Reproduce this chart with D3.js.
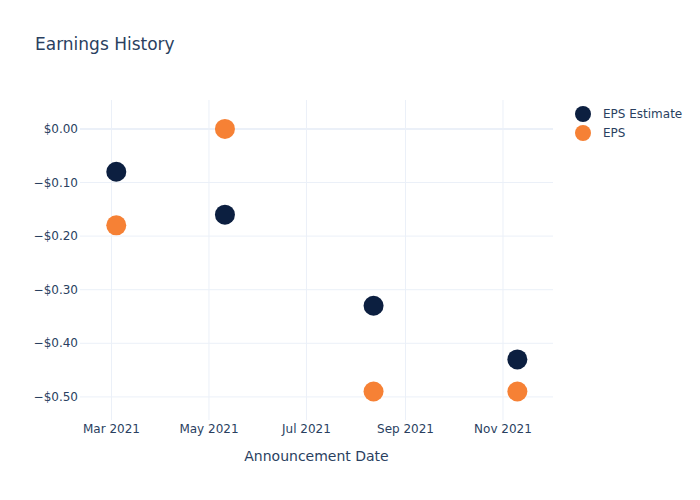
<!DOCTYPE html>
<html><head><meta charset="utf-8">
<script src="https://cdn.jsdelivr.net/npm/d3@7"></script>
<style>body{margin:0;background:#fff;} text{font-family:"DejaVu Sans",Verdana,sans-serif;}</style>
</head><body>
<svg id="c" width="700" height="500"></svg>
<script>
const dates = ["2021-03-04","2021-05-11","2021-08-12","2021-11-10"];
const epsEstimate = [-0.08,-0.16,-0.33,-0.43];
const eps = [-0.18,0.00,-0.49,-0.49];
const yTicks = [0,-0.1,-0.2,-0.3,-0.4,-0.5];
const xTicks = ["2021-03-01","2021-05-01","2021-07-01","2021-09-01","2021-11-01"];
const seriesNames = ["EPS Estimate","EPS"];
const colors = ["#0c1f40","#f68135"];

const svg = d3.select("#c");
const L=80,R=553,T=100,B=420;
const parse = d3.utcParse("%Y-%m-%d");
const x = d3.scaleUtc().domain([new Date(Date.UTC(2021,1,9,7)), new Date(Date.UTC(2021,11,2,7))]).range([L,R]);
const y = d3.scaleLinear().domain([-0.5431,0.0539]).range([B,T]);
const txt="#2a3f5f", grid="#ebf0f8";

svg.append("text").attr("x",35).attr("y",50).attr("font-size",17).attr("fill",txt).text("Earnings History");

// grid
svg.append("g").selectAll("line").data(xTicks).join("line")
 .attr("x1",d=>x(parse(d))).attr("x2",d=>x(parse(d))).attr("y1",T).attr("y2",B)
 .attr("stroke",grid).attr("stroke-width",1);
svg.append("g").selectAll("line").data(yTicks).join("line")
 .attr("x1",L).attr("x2",R).attr("y1",d=>y(d)).attr("y2",d=>y(d))
 .attr("stroke",grid).attr("stroke-width",d=>d===0?2:1);

const fmt = d => (d<0?"\u2212":"")+"$"+Math.abs(d).toFixed(2);
svg.append("g").selectAll("text").data(yTicks).join("text")
 .attr("x",L-2).attr("y",d=>y(d)).attr("dy","0.35em").attr("text-anchor","end")
 .attr("font-size",12).attr("fill",txt).text(fmt);
const xf = d3.utcFormat("%b %Y");
svg.append("g").selectAll("text").data(xTicks).join("text")
 .attr("x",d=>x(parse(d))).attr("y",433).attr("text-anchor","middle")
 .attr("font-size",12).attr("fill",txt).text(d=>xf(parse(d)));
svg.append("text").attr("x",(L+R)/2).attr("y",461).attr("text-anchor","middle")
 .attr("font-size",14).attr("fill",txt).text("Announcement Date");

[epsEstimate, eps].forEach((vals,i)=>{
  svg.append("g").selectAll("circle").data(vals).join("circle")
   .attr("cx",(d,j)=>x(parse(dates[j]))).attr("cy",d=>y(d)).attr("r",10)
   .attr("fill",colors[i]);
});

const lg = svg.append("g");
seriesNames.forEach((n,i)=>{
  lg.append("circle").attr("cx",583).attr("cy",114+i*19).attr("r",8).attr("fill",colors[i]);
  lg.append("text").attr("x",603).attr("y",114+i*19).attr("dy","0.35em").attr("font-size",12).attr("fill",txt).text(n);
});
</script>
</body></html>
